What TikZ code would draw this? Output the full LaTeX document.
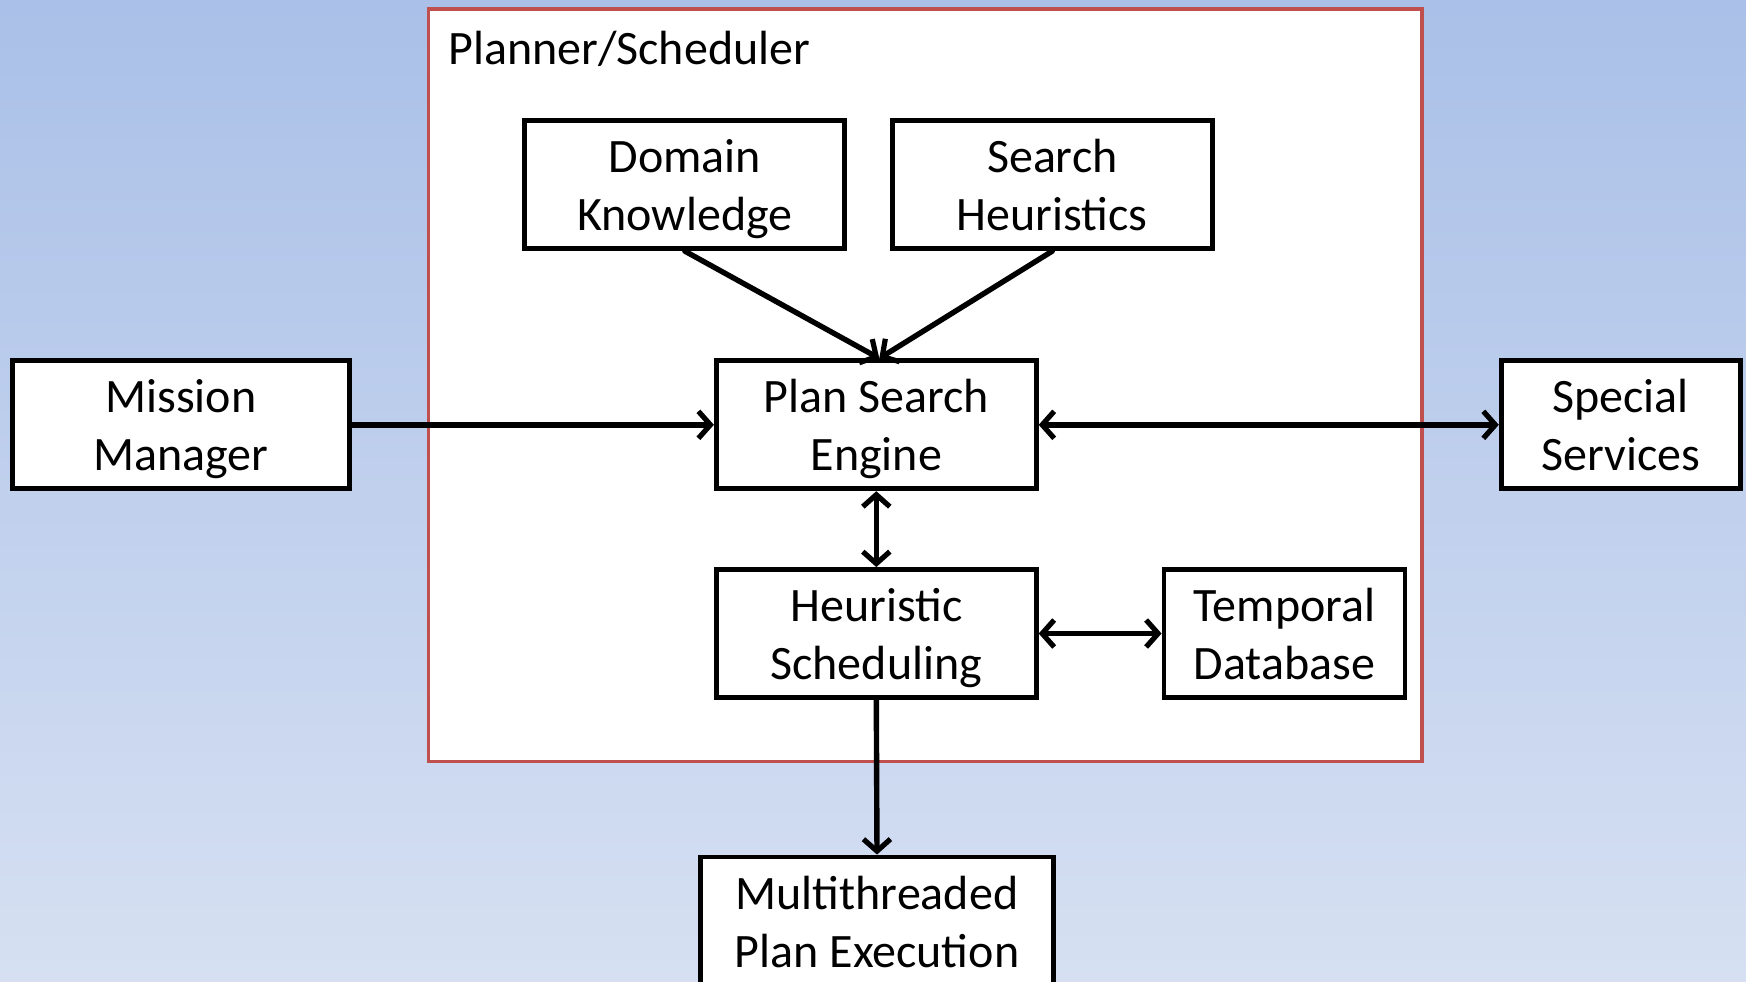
\documentclass[tikz,border=0pt]{standalone}
\usepackage{fontspec}
\setmainfont{Carlito}
\usetikzlibrary{arrows.meta}
\definecolor{bgtop}{RGB}{170,192,232}
\definecolor{bgbot}{RGB}{214,224,242}
\definecolor{frame}{RGB}{192,80,77}
% fixed line metrics so every two-line label sits at the same height
\newcommand\topstrut{\rule{0pt}{44pt}}
\newcommand\botstrut{\rule[-10pt]{0pt}{10pt}}
\newcommand\twolines[2]{\topstrut#1\\#2\botstrut}
\tikzset{
  blk/.style={draw=black, fill=white, line width=4.8pt, minimum height=128pt,
    align=center, inner sep=0pt, font=\fontsize{48}{58}\selectfont},
  barb/.tip={Straight Barb[length=12pt,width=27pt,line width=5.2pt]},
  link/.style={line width=5.4pt, line cap=round, -barb},
  dlink/.style={line width=5.4pt, line cap=round, barb-barb},
}
\begin{document}
\begin{tikzpicture}[x=1pt,y=-1pt]
  % page and background gradient
  \useasboundingbox (0,0) rectangle (1746,982);
  \shade[top color=bgtop, bottom color=bgbot] (0,0) rectangle (1746,982);

  % planner/scheduler frame
  \draw[draw=frame, fill=white, line width=3.5pt] (428.7,9) rectangle (1422,761.6);
  \node[anchor=west, font=\fontsize{48}{58}\selectfont, inner sep=0pt] (title) at (448,49) {Planner/Scheduler};

  % blocks
  \node[blk, minimum width=320pt] (dk)  at (684.8,184.7) {\twolines{Domain}{Knowledge}};
  \node[blk, minimum width=320pt] (sh)  at (1052.3,184.7) {\twolines{Search}{Heuristics}};
  \node[blk, minimum width=337pt] (mm)  at (181,424.8) {\twolines{Mission}{Manager}};
  \node[blk, minimum width=320pt] (pse) at (876.3,424.8) {\twolines{Plan Search}{Engine}};
  \node[blk, minimum width=239pt] (ss)  at (1620.7,424.8) {\twolines{Special}{Services}};
  \node[blk, minimum width=320pt] (hs)  at (876.3,633.5) {\twolines{Heuristic}{Scheduling}};
  \node[blk, minimum width=241pt] (td)  at (1284.5,633.5) {\twolines{Temporal}{Database}};
  \node[blk, minimum width=353pt] (mpe) at (877,921) {\twolines{Multithreaded}{Plan Execution}};

  % connectors
  \draw[link]  (dk.south) -- ([xshift=3pt]pse.north);
  \draw[link]  (sh.south) -- ([xshift=3pt]pse.north);
  \draw[link]  (mm.east) -- (pse.west);
  \draw[dlink] (pse.east) -- (ss.west);
  \draw[dlink] (pse.south) -- (hs.north);
  \draw[dlink] (hs.east) -- (td.west);
  \draw[link]  (hs.south) -- (mpe.north);
\end{tikzpicture}
\end{document}
